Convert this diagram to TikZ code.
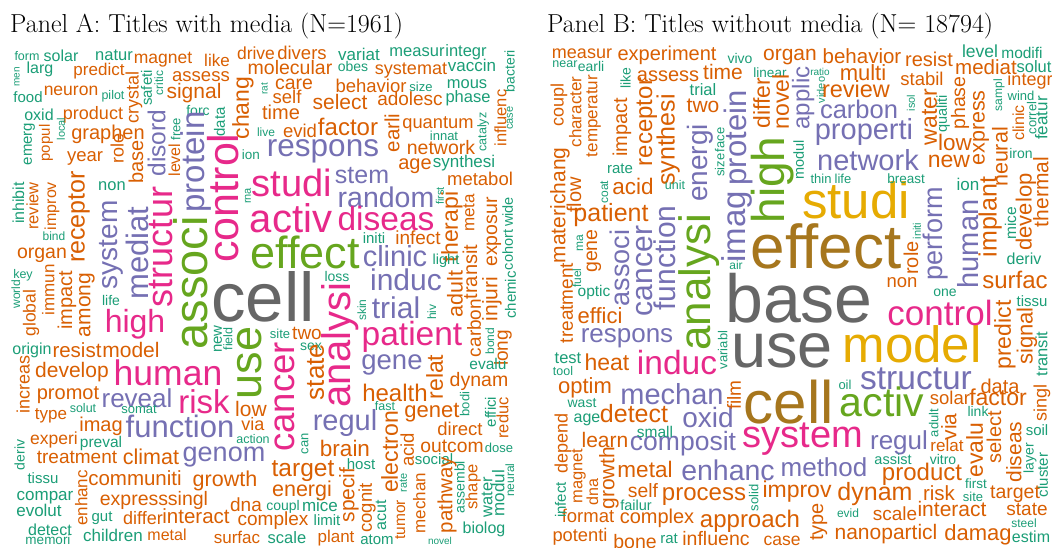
\documentclass[tikz,border=0pt]{standalone}
\usepackage{fontspec}
\setsansfont{Liberation Sans}
\usepackage{tikz}
\definecolor{w_teal}{RGB}{27,158,119}
\definecolor{w_orange}{RGB}{217,95,2}
\definecolor{w_purple}{RGB}{117,112,179}
\definecolor{w_pink}{RGB}{231,41,138}
\definecolor{w_green}{RGB}{102,166,30}
\definecolor{w_yellow}{RGB}{230,171,2}
\definecolor{w_brown}{RGB}{166,118,29}
\definecolor{w_gray}{RGB}{102,102,102}
\newcommand{\wfs}[1]{\sffamily\fontsize{#1}{#1}\selectfont}
\newsavebox\wordbox

\begin{document}
\begin{tikzpicture}[x=1pt,y=-1pt]
    \tikzstyle{word}=[inner sep=0pt,
      execute at begin node={\begin{lrbox}{\wordbox}},
      execute at end node={\end{lrbox}\raisebox{-0.26em}[0pt][0pt]{\usebox{\wordbox}}}]
    \tikzstyle{wtl}=[style=word,text=w_teal]
    \tikzstyle{wor}=[style=word,text=w_orange]
    \tikzstyle{wpu}=[style=word,text=w_purple]
    \tikzstyle{wpk}=[style=word,text=w_pink]
    \tikzstyle{wgn}=[style=word,text=w_green]
    \tikzstyle{wyl}=[style=word,text=w_yellow]
    \tikzstyle{wbn}=[style=word,text=w_brown]
    \tikzstyle{wgy}=[style=word,text=w_gray]
    \tikzstyle{vert}=[rotate=90]
    \tikzstyle{title}=[inner sep=0pt,anchor=base west,font=\rmfamily\fontsize{26}{26}\selectfont]

    \useasboundingbox[fill=white] (0,0) rectangle (1052,547);

    \node[title] (titleA) at (10,32) {Panel A: Titles with media (N=1961)};
    \node[title] (titleB) at (547,32) {Panel B: Titles without media (N= 18794)};

    % panel A
    \node[wtl, font=\wfs{12.5}] (a-form) at (27,57) {form};
    \node[wtl, font=\wfs{16}] (a-solar) at (61,57) {solar};
    \node[wtl, font=\wfs{16.5}] (a-natur) at (114,56) {natur};
    \node[wor, font=\wfs{17.5}] (a-magnet) at (163,59) {magnet};
    \node[wor, font=\wfs{17}] (a-like) at (217,62) {like};
    \node[wor, font=\wfs{17.5}] (a-drive) at (256,55) {drive};
    \node[wtl, vert, font=\wfs{10}] (a-men) at (17,77) {men};
    \node[wtl, font=\wfs{16}] (a-larg) at (40,69) {larg};
    \node[wor, font=\wfs{17}] (a-predict) at (99,71) {predict};
    \node[wor, vert, font=\wfs{18}] (a-crystal) at (134,97) {crystal};
    \node[wtl, vert, font=\wfs{15}] (a-safeti) at (148,88) {safeti};
    \node[wtl, vert, font=\wfs{12}] (a-critic) at (160,83) {critic};
    \node[wor, font=\wfs{18.5}] (a-assess) at (201,77) {assess};
    \node[wor, font=\wfs{19.5}] (a-molecular) at (290,69) {molecular};
    \node[wor, font=\wfs{17.5}] (a-neuron) at (71,91) {neuron};
    \node[wtl, font=\wfs{12.5}] (a-pilot) at (113,96) {pilot};
    \node[wor, font=\wfs{21}] (a-signal) at (194,93) {signal};
    \node[wtl, vert, font=\wfs{10}] (a-rat) at (265,89) {rat};
    \node[wtl, font=\wfs{15}] (a-food) at (28,99) {food};
    \node[wtl, font=\wfs{16}] (a-oxid) at (39,116) {oxid};
    \node[wor, font=\wfs{18}] (a-product) at (93,115) {product};
    \node[wtl, font=\wfs{14}] (a-forc) at (198,112) {forc};
    \node[wtl, vert, font=\wfs{15}] (a-data) at (221,122) {data};
    \node[wor, vert, font=\wfs{23}] (a-chang) at (243,108) {chang};
    \node[wor, font=\wfs{20}] (a-time) at (281,114) {time};
    \node[wtl, vert, font=\wfs{15}] (a-emerg) at (28,144) {emerg};
    \node[wor, vert, font=\wfs{15}] (a-popul) at (46,143) {popul};
    \node[wtl, vert, font=\wfs{11}] (a-local) at (62,129) {local};
    \node[wor, font=\wfs{20}] (a-graphen) at (108,134) {graphen};
    \node[wor, font=\wfs{18.5}] (a-year) at (85,157) {year};
    \node[wor, vert, font=\wfs{18}] (a-role) at (119,148) {role};
    \node[wor, vert, font=\wfs{20}] (a-base) at (138,162) {base};
    \node[wpu, vert, font=\wfs{24.5}] (a-disord) at (159,143) {disord};
    \node[wtl, vert, font=\wfs{13}] (a-free) at (177,129) {free};
    \node[wor, vert, font=\wfs{16}] (a-level) at (176,160) {level};
    \node[wpu, vert, font=\wfs{33}] (a-protein) at (196,162) {protein};
    \node[wpk, vert, font=\wfs{43}] (a-control) at (227,198) {control};
    \node[wtl, font=\wfs{13.5}] (a-ion) at (251,156) {ion};
    \node[wtl, font=\wfs{12}] (a-live) at (266,133) {live};
    \node[wtl, vert, font=\wfs{11}] (a-rna) at (248,196) {rna};
    \node[wtl, vert, font=\wfs{16}] (a-inhibit) at (20,203) {inhibit};
    \node[wor, vert, font=\wfs{16.5}] (a-review) at (34,206) {review};
    \node[wor, vert, font=\wfs{16}] (a-improv) at (52,206) {improv};
    \node[wtl, font=\wfs{16.5}] (a-non) at (112,186) {non};
    \node[wor, vert, font=\wfs{25}] (a-receptor) at (78,217) {receptor};
    \node[wpu, vert, font=\wfs{28}] (a-system) at (110,245) {system};
    \node[wpu, vert, font=\wfs{31}] (a-mediat) at (140,253) {mediat};
    \node[wtl, font=\wfs{12}] (a-bind) at (54,237) {bind};
    \node[wor, font=\wfs{19.5}] (a-organ) at (42,253) {organ};
    \node[wpk, vert, font=\wfs{36}] (a-structur) at (163,247) {structur};
    \node[wgn, vert, font=\wfs{47}] (a-associ) at (195,283) {associ};
    \node[wtl, font=\wfs{12.5}] (a-key) at (23,275) {key};
    \node[wor, font=\wfs{18.5}] (a-divers) at (302,55) {divers};
    \node[wtl, font=\wfs{17}] (a-variat) at (359,56) {variat};
    \node[wtl, font=\wfs{16.5}] (a-measur) at (417,52) {measur};
    \node[wtl, font=\wfs{16.5}] (a-integr) at (466,52) {integr};
    \node[wtl, vert, font=\wfs{14}] (a-bacteri) at (511,71) {bacteri};
    \node[wtl, font=\wfs{14}] (a-obes) at (353,68) {obes};
    \node[wor, font=\wfs{18}] (a-systemat) at (411,70) {systemat};
    \node[wtl, font=\wfs{17}] (a-vaccin) at (472,67) {vaccin};
    \node[wor, font=\wfs{19.5}] (a-care) at (294,84) {care};
    \node[wor, font=\wfs{18.5}] (a-behavior) at (371,88) {behavior};
    \node[wtl, font=\wfs{13}] (a-size) at (421,88) {size};
    \node[wtl, font=\wfs{16.5}] (a-mous) at (467,84) {mous};
    \node[wor, vert, font=\wfs{16.5}] (a-influenc) at (502,118) {influenc};
    \node[wor, font=\wfs{18.5}] (a-self) at (287,99) {self};
    \node[wor, font=\wfs{21}] (a-select) at (340,104) {select};
    \node[wor, font=\wfs{19}] (a-adolesc) at (410,101) {adolesc};
    \node[wtl, font=\wfs{16.5}] (a-phase) at (468,98) {phase};
    \node[wtl, vert, font=\wfs{11}] (a-case) at (510,118) {case};
    \node[wtl, vert, font=\wfs{12.5}] (a-catalyz) at (483,132) {catalyz};
    \node[wor, font=\wfs{18.5}] (a-evid) at (300,133) {evid};
    \node[wor, font=\wfs{24}] (a-factor) at (348,129) {factor};
    \node[wor, vert, font=\wfs{20.5}] (a-earli) at (394,133) {earli};
    \node[wor, font=\wfs{18.3}] (a-quantum) at (438,124) {quantum};
    \node[wtl, font=\wfs{13}] (a-innat) at (444,137) {innat};
    \node[wpu, font=\wfs{31.5}] (a-respons) at (323,148) {respons};
    \node[wor, font=\wfs{19.5}] (a-network) at (441,149) {network};
    \node[wor, font=\wfs{20}] (a-age) at (415,164) {age};
    \node[wtl, font=\wfs{17}] (a-synthesi) at (464,163) {synthesi};
    \node[wpk, font=\wfs{38}] (a-studi) at (292,187) {studi};
    \node[wpu, font=\wfs{25}] (a-stem) at (362,177) {stem};
    \node[wor, font=\wfs{18.5}] (a-metabol) at (480,181) {metabol};
    \node[wpu, font=\wfs{28.5}] (a-random) at (386,200) {random};
    \node[wtl, vert, font=\wfs{11}] (a-first) at (441,196) {first};
    \node[wor, vert, font=\wfs{23}] (a-therapi) at (452,227) {therapi};
    \node[wor, vert, font=\wfs{17}] (a-meta) at (470,213) {meta};
    \node[wor, vert, font=\wfs{20}] (a-transit) at (472,272) {transit};
    \node[wor, vert, font=\wfs{19}] (a-carbon) at (476,328) {carbon};
    \node[wor, vert, font=\wfs{19.5}] (a-exposur) at (492,232) {exposur};
    \node[wtl, vert, font=\wfs{14.5}] (a-wide) at (509,212) {wide};
    \node[wtl, vert, font=\wfs{14.5}] (a-cohort) at (509,250) {cohort};
    \node[wpk, font=\wfs{40}] (a-activ) at (291,222) {activ};
    \node[wpk, font=\wfs{33.5}] (a-diseas) at (386,222) {diseas};
    \node[wtl, font=\wfs{15}] (a-initi) at (374,240) {initi};
    \node[wor, font=\wfs{19}] (a-infect) at (418,240) {infect};
    \node[wgn, font=\wfs{45}] (a-effect) at (305,257) {effect};
    \node[wpu, font=\wfs{29}] (a-clinic) at (395,259) {clinic};
    \node[wtl, font=\wfs{14.5}] (a-light) at (446,261) {light};
    \node[wtl, font=\wfs{14}] (a-loss) at (337,278) {loss};
    \node[wgy, font=\wfs{69}] (a-cell) at (263,304) {cell};
    \node[wpu, font=\wfs{30}] (a-induc) at (406,283) {induc};
    \node[wpu, font=\wfs{30}] (a-trial) at (396,311) {trial};
    \node[wtl, vert, font=\wfs{12}] (a-skin) at (363,310) {skin};
    \node[wtl, vert, font=\wfs{12}] (a-hiv) at (433,312) {hiv};
    \node[wor, vert, font=\wfs{21.5}] (a-adult) at (457,294) {adult};
    \node[wor, vert, font=\wfs{21}] (a-injuri) at (492,299) {injuri};
    \node[wtl, vert, font=\wfs{15}] (a-chemic) at (512,295) {chemic};
    \node[wpk, vert, font=\wfs{40}] (a-analysi) at (340,345) {analysi};
    \node[wgn, vert, font=\wfs{45}] (a-use) at (250,363) {use};
    \node[wtl, vert, font=\wfs{15}] (a-new) at (218,339) {new};
    \node[wtl, vert, font=\wfs{12.5}] (a-field) at (229,339) {field};
    \node[wtl, font=\wfs{13}] (a-site) at (280,335) {site};
    \node[wor, font=\wfs{19}] (a-two) at (307,335) {two};
    \node[wtl, font=\wfs{14}] (a-sex) at (311,347) {sex};
    \node[wpk, font=\wfs{33.5}] (a-patient) at (412,337) {patient};
    \node[wpk, vert, font=\wfs{36.5}] (a-cancer) at (285,397) {cancer};
    \node[wor, vert, font=\wfs{26}] (a-state) at (317,372) {state};
    \node[wpu, font=\wfs{27.5}] (a-gene) at (392,362) {gene};
    \node[wtl, vert, font=\wfs{12}] (a-bond) at (491,341) {bond};
    \node[wor, vert, font=\wfs{19}] (a-long) at (503,348) {long};
    \node[wtl, font=\wfs{15.5}] (a-evalu) at (488,365) {evalu};
    \node[wor, vert, font=\wfs{23}] (a-relat) at (437,377) {relat};
    \node[wor, font=\wfs{19.5}] (a-dynam) at (479,381) {dynam};
    \node[wor, font=\wfs{24}] (a-health) at (395,395) {health};
    \node[wtl, font=\wfs{12.5}] (a-fast) at (385,407) {fast};
    \node[wor, font=\wfs{22}] (a-genet) at (432,412) {genet};
    \node[wtl, vert, font=\wfs{13}] (a-bodi) at (466,404) {bodi};
    \node[wtl, vert, font=\wfs{15}] (a-effici) at (492,412) {effici};
    \node[wor, vert, font=\wfs{16.5}] (a-reduc) at (504,418) {reduc};
    \node[wor, vert, font=\wfs{23}] (a-electron) at (392,452) {electron};
    \node[wpu, font=\wfs{29}] (a-regul) at (345,423) {regul};
    \node[wor, font=\wfs{18.5}] (a-direct) at (460,431) {direct};
    \node[wor, vert, font=\wfs{18.5}] (a-acid) at (409,450) {acid};
    \node[wor, font=\wfs{19.3}] (a-outcom) at (452,447) {outcom};
    \node[wtl, font=\wfs{13}] (a-dose) at (499,449) {dose};
    \node[wtl, vert, font=\wfs{13}] (a-can) at (305,444) {can};
    \node[wor, font=\wfs{22.5}] (a-brain) at (345,451) {brain};
    \node[wtl, font=\wfs{15}] (a-social) at (434,461) {social};
    \node[wtl, vert, font=\wfs{14}] (a-assembl) at (461,487) {assembl};
    \node[wor, font=\wfs{24.5}] (a-target) at (303,470) {target};
    \node[wtl, font=\wfs{15}] (a-host) at (361,466) {host};
    \node[wor, vert, font=\wfs{21}] (a-specif) at (349,495) {specif};
    \node[wor, vert, font=\wfs{20.5}] (a-pathway) at (447,495) {pathway};
    \node[wor, vert, font=\wfs{16.5}] (a-shape) at (473,487) {shape};
    \node[wtl, vert, font=\wfs{16.5}] (a-water) at (488,497) {water};
    \node[wtl, vert, font=\wfs{17}] (a-modul) at (500,493) {modul};
    \node[wtl, vert, font=\wfs{12}] (a-neural) at (511,480) {neural};
    \node[wor, font=\wfs{21.5}] (a-energi) at (302,491) {energi};
    \node[wor, vert, font=\wfs{18.5}] (a-cognit) at (367,508) {cognit};
    \node[wor, vert, font=\wfs{15.5}] (a-tumor) at (401,520) {tumor};
    \node[wtl, vert, font=\wfs{11}] (a-rate) at (404,483) {rate};
    \node[wor, vert, font=\wfs{17}] (a-mechan) at (421,503) {mechan};
    \node[wtl, vert, font=\wfs{16}] (a-acut) at (382,515) {acut};
    \node[wtl, font=\wfs{14}] (a-coupl) at (283,507) {coupl};
    \node[wtl, font=\wfs{17}] (a-mice) at (320,507) {mice};
    \node[wtl, font=\wfs{15}] (a-limit) at (327,522) {limit};
    \node[wor, font=\wfs{19}] (a-complex) at (273,521) {complex};
    \node[wtl, font=\wfs{16.5}] (a-scale) at (287,539) {scale};
    \node[wor, font=\wfs{17}] (a-plant) at (336,538) {plant};
    \node[wtl, font=\wfs{15}] (a-atom) at (377,541) {atom};
    \node[wtl, font=\wfs{10}] (a-novel) at (440,542) {novel};
    \node[wtl, font=\wfs{16}] (a-biolog) at (484,529) {biolog};
    \node[wor, font=\wfs{17}] (a-surfac) at (237,539) {surfac};
    \node[wor, font=\wfs{19}] (a-dna) at (246,507) {dna};
    \node[wor, font=\wfs{21.5}] (a-growth) at (225,481) {growth};
    \node[wpu, font=\wfs{27}] (a-genom) at (224,454) {genom};
    \node[wtl, font=\wfs{12.5}] (a-action) at (253,440) {action};
    \node[wor, font=\wfs{18}] (a-via) at (253,426) {via};
    \node[wor, font=\wfs{21}] (a-low) at (251,411) {low};
    \node[wpk, font=\wfs{33}] (a-risk) at (204,405) {risk};
    \node[wpk, font=\wfs{35.5}] (a-human) at (168,376) {human};
    \node[wpk, font=\wfs{32}] (a-high) at (135,324) {high};
    \node[wtl, font=\wfs{14}] (a-life) at (111,302) {life};
    \node[wor, font=\wfs{21}] (a-model) at (131,352) {model};
    \node[wor, font=\wfs{20.5}] (a-resist) at (77,352) {resist};
    \node[wtl, font=\wfs{16}] (a-origin) at (32,350) {origin};
    \node[wor, font=\wfs{21}] (a-develop) at (72,372) {develop};
    \node[wor, font=\wfs{20}] (a-promot) at (68,394) {promot};
    \node[wor, vert, font=\wfs{18}] (a-increas) at (25,384) {increas};
    \node[wpu, font=\wfs{26}] (a-reveal) at (137,401) {reveal};
    \node[wor, font=\wfs{17}] (a-type) at (51,415) {type};
    \node[wtl, font=\wfs{12.5}] (a-solut) at (83,409) {solut};
    \node[wtl, font=\wfs{13}] (a-somat) at (139,410) {somat};
    \node[wor, font=\wfs{20}] (a-imag) at (101,426) {imag};
    \node[wpu, font=\wfs{31}] (a-function) at (180,429) {function};
    \node[wor, font=\wfs{17.5}] (a-experi) at (54,440) {experi};
    \node[wtl, font=\wfs{15.5}] (a-preval) at (101,443) {preval};
    \node[wtl, vert, font=\wfs{14}] (a-deriv) at (21,455) {deriv};
    \node[wor, font=\wfs{19}] (a-treatment) at (77,459) {treatment};
    \node[wor, font=\wfs{21.5}] (a-climat) at (151,459) {climat};
    \node[wtl, font=\wfs{15}] (a-tissu) at (43,480) {tissu};
    \node[wor, vert, font=\wfs{17}] (a-enhanc) at (83,498) {enhanc};
    \node[wor, font=\wfs{20.5}] (a-communiti) at (135,480) {communiti};
    \node[wtl, font=\wfs{17}] (a-compar) at (45,496) {compar};
    \node[wor, font=\wfs{19.5}] (a-express) at (134,500) {express};
    \node[wor, font=\wfs{19.5}] (a-singl) at (188,500) {singl};
    \node[wtl, font=\wfs{17}] (a-evolut) at (39,512) {evolut};
    \node[wtl, font=\wfs{15}] (a-gut) at (102,518) {gut};
    \node[wor, font=\wfs{18}] (a-differ) at (143,520) {differ};
    \node[wor, font=\wfs{20.5}] (a-interact) at (196,518) {interact};
    \node[wtl, font=\wfs{16}] (a-detect) at (50,531) {detect};
    \node[wtl, font=\wfs{13.5}] (a-memori) at (48,541) {memori};
    \node[wtl, font=\wfs{17}] (a-children) at (113,537) {children};
    \node[wor, font=\wfs{16}] (a-metal) at (167,536) {metal};
    \node[wor, vert, font=\wfs{17.5}] (a-global) at (31,313) {global};
    \node[wtl, vert, font=\wfs{12}] (a-world) at (17,294) {world};
    \node[wor, vert, font=\wfs{17}] (a-immun) at (50,290) {immun};
    \node[wor, vert, font=\wfs{20}] (a-impact) at (67,300) {impact};
    \node[wor, vert, font=\wfs{21}] (a-among) at (85,305) {among};

    % panel B
    \node[wor, font=\wfs{18}] (b-measur) at (582,54) {measur};
    \node[wor, font=\wfs{20}] (b-experiment) at (667,55) {experiment};
    \node[wtl, font=\wfs{14}] (b-vivo) at (740,60) {vivo};
    \node[wor, font=\wfs{21}] (b-organ) at (790,55) {organ};
    \node[wtl, font=\wfs{12.5}] (b-near) at (565,64) {near};
    \node[wtl, font=\wfs{14}] (b-earli) at (591,68) {earli};
    \node[wtl, vert, font=\wfs{14}] (b-like) at (627,78) {like};
    \node[wor, font=\wfs{20}] (b-assess) at (668,76) {assess};
    \node[wor, font=\wfs{21}] (b-time) at (723,74) {time};
    \node[wtl, font=\wfs{13.5}] (b-linear) at (770,74) {linear};
    \node[wpu, vert, font=\wfs{24}] (b-applic) at (803,98) {applic};
    \node[wor, vert, font=\wfs{18}] (b-coupl) at (559,105) {coupl};
    \node[wor, vert, font=\wfs{17}] (b-character) at (577,112) {character};
    \node[wor, vert, font=\wfs{17}] (b-temperatur) at (593,116) {temperatur};
    \node[wor, vert, font=\wfs{20}] (b-impact) at (622,127) {impact};
    \node[wor, vert, font=\wfs{24}] (b-receptor) at (646,122) {receptor};
    \node[wor, vert, font=\wfs{25}] (b-synthesi) at (668,140) {synthesi};
    \node[wtl, font=\wfs{16.5}] (b-trial) at (703,91) {trial};
    \node[wor, font=\wfs{21}] (b-two) at (703,107) {two};
    \node[wpu, vert, font=\wfs{31}] (b-protein) at (738,138) {protein};
    \node[wpu, vert, font=\wfs{33}] (b-imag) at (737,227) {imag};
    \node[wor, vert, font=\wfs{23}] (b-differ) at (764,103) {differ};
    \node[wor, vert, font=\wfs{23}] (b-novel) at (783,102) {novel};
    \node[wtl, vert, font=\wfs{13}] (b-size) at (721,165) {size};
    \node[wtl, vert, font=\wfs{13}] (b-face) at (721,140) {face};
    \node[wtl, font=\wfs{15}] (b-rate) at (620,170) {rate};
    \node[wor, font=\wfs{22.5}] (b-acid) at (633,189) {acid};
    \node[wtl, vert, font=\wfs{12}] (b-coat) at (605,192) {coat};
    \node[wtl, font=\wfs{12.5}] (b-unit) at (675,186) {unit};
    \node[wpu, vert, font=\wfs{28}] (b-energi) at (700,163) {energi};
    \node[wor, vert, font=\wfs{20}] (b-flow) at (576,195) {flow};
    \node[wor, vert, font=\wfs{21}] (b-materi) at (560,234) {materi};
    \node[wor, vert, font=\wfs{21}] (b-chang) at (560,176) {chang};
    \node[wor, vert, font=\wfs{19}] (b-treatment) at (568,303) {treatment};
    \node[wor, font=\wfs{25}] (b-patient) at (611,215) {patient};
    \node[wor, vert, font=\wfs{19.5}] (b-gene) at (592,251) {gene};
    \node[wtl, vert, font=\wfs{12}] (b-ma) at (580,243) {ma};
    \node[wtl, vert, font=\wfs{12}] (b-fuel) at (578,278) {fuel};
    \node[wtl, font=\wfs{15.5}] (b-optic) at (594,292) {optic};
    \node[wpu, vert, font=\wfs{27}] (b-associ) at (622,268) {associ};
    \node[wpu, vert, font=\wfs{30}] (b-cancer) at (645,271) {cancer};
    \node[wpu, vert, font=\wfs{30}] (b-function) at (668,258) {function};
    \node[wgn, vert, font=\wfs{44}] (b-analysi) at (699,282) {analysi};
    \node[wtl, font=\wfs{12}] (b-air) at (736,266) {air};
    \node[wgn, vert, font=\wfs{46}] (b-high) at (773,180) {high};
    \node[wgy, font=\wfs{68}] (b-base) at (799,305) {base};
    \node[wgy, font=\wfs{63}] (b-use) at (782,351) {use};
    \node[wbn, font=\wfs{62}] (b-effect) at (826,252) {effect};
    \node[wyl, font=\wfs{51}] (b-studi) at (856,205) {studi};
    \node[wbn, font=\wfs{60}] (b-cell) at (789,408) {cell};
    \node[wyl, font=\wfs{51}] (b-model) at (912,349) {model};
    \node[wgn, font=\wfs{41}] (b-activ) at (882,406) {activ};
    \node[wpu, font=\wfs{33.5}] (b-structur) at (916,381) {structur};
    \node[wpk, font=\wfs{38}] (b-system) at (803,438) {system};
    \node[wpk, font=\wfs{35}] (b-control) at (940,316) {control};
    \node[wor, font=\wfs{18.5}] (b-non) at (902,283) {non};
    \node[wtl, font=\wfs{14}] (b-one) at (945,293) {one};
    \node[wor, font=\wfs{24}] (b-surfac) at (1015,282) {surfac};
    \node[wtl, font=\wfs{15}] (b-tissu) at (1032,303) {tissu};
    \node[wor, vert, font=\wfs{23}] (b-predict) at (1005,335) {predict};
    \node[wor, vert, font=\wfs{22}] (b-signal) at (1027,336) {signal};
    \node[wtl, vert, font=\wfs{16.5}] (b-transit) at (1043,354) {transit};
    \node[wtl, font=\wfs{13}] (b-oil) at (845,386) {oil};
    \node[wor, font=\wfs{20}] (b-data) at (1000,388) {data};
    \node[wor, font=\wfs{18.5}] (b-solar) at (950,400) {solar};
    \node[wor, font=\wfs{23}] (b-factor) at (998,400) {factor};
    \node[wor, vert, font=\wfs{18}] (b-singl) at (1042,403) {singl};
    \node[wor, vert, font=\wfs{21}] (b-via) at (951,427) {via};
    \node[wtl, font=\wfs{14}] (b-link) at (978,413) {link};
    \node[wtl, vert, font=\wfs{13}] (b-adult) at (935,423) {adult};
    \node[wor, vert, font=\wfs{23}] (b-evalu) at (977,450) {evalu};
    \node[wor, vert, font=\wfs{20}] (b-select) at (996,437) {select};
    \node[wor, vert, font=\wfs{21}] (b-diseas) at (1016,452) {diseas};
    \node[wtl, font=\wfs{15}] (b-soil) at (1037,432) {soil};
    \node[wtl, vert, font=\wfs{14}] (b-layer) at (1030,458) {layer};
    \node[wtl, vert, font=\wfs{15}] (b-cluster) at (1044,475) {cluster};
    \node[wpu, font=\wfs{26}] (b-regul) at (899,443) {regul};
    \node[wor, font=\wfs{17}] (b-relat) at (947,447) {relat};
    \node[wtl, font=\wfs{14.5}] (b-assist) at (893,461) {assist};
    \node[wtl, font=\wfs{14}] (b-vitro) at (943,461) {vitro};
    \node[wpu, font=\wfs{26}] (b-method) at (824,470) {method};
    \node[wor, font=\wfs{24}] (b-product) at (922,474) {product};
    \node[wtl, font=\wfs{13.5}] (b-first) at (976,485) {first};
    \node[wtl, font=\wfs{13}] (b-site) at (973,498) {site};
    \node[wor, font=\wfs{19.5}] (b-target) at (1015,493) {target};
    \node[wor, font=\wfs{23}] (b-improv) at (797,492) {improv};
    \node[wor, font=\wfs{25}] (b-dynam) at (875,494) {dynam};
    \node[wor, font=\wfs{20.5}] (b-risk) at (939,495) {risk};
    \node[wor, vert, font=\wfs{20}] (b-type) at (818,522) {type};
    \node[wtl, font=\wfs{12}] (b-evid) at (848,514) {evid};
    \node[wor, font=\wfs{19}] (b-scale) at (895,516) {scale};
    \node[wor, font=\wfs{21}] (b-interact) at (952,511) {interact};
    \node[wor, font=\wfs{19}] (b-state) at (1027,511) {state};
    \node[wor, font=\wfs{21}] (b-nanoparticl) at (886,534) {nanoparticl};
    \node[wor, font=\wfs{22}] (b-damag) at (978,535) {damag};
    \node[wtl, font=\wfs{12}] (b-steel) at (1024,524) {steel};
    \node[wtl, font=\wfs{16}] (b-estim) at (1031,538) {estim};
    \node[wor, font=\wfs{24}] (b-approach) at (750,521) {approach};
    \node[wor, font=\wfs{17.5}] (b-case) at (782,541) {case};
    \node[wor, font=\wfs{19.5}] (b-influenc) at (716,540) {influenc};
    \node[wtl, font=\wfs{15}] (b-rat) at (669,540) {rat};
    \node[wor, font=\wfs{19.5}] (b-bone) at (635,543) {bone};
    \node[wor, font=\wfs{18.3}] (b-potenti) at (580,537) {potenti};
    \node[wor, font=\wfs{18.5}] (b-format) at (588,518) {format};
    \node[wor, font=\wfs{20}] (b-complex) at (657,518) {complex};
    \node[wor, font=\wfs{19.3}] (b-self) at (643,492) {self};
    \node[wor, font=\wfs{24}] (b-process) at (704,494) {process};
    \node[wtl, vert, font=\wfs{13}] (b-solid) at (755,498) {solid};
    \node[wtl, font=\wfs{14.5}] (b-failur) at (636,507) {failur};
    \node[wor, font=\wfs{22.5}] (b-metal) at (645,472) {metal};
    \node[wpu, font=\wfs{28.5}] (b-enhanc) at (728,473) {enhanc};
    \node[wpu, font=\wfs{26.5}] (b-composit) at (683,444) {composit};
    \node[wor, font=\wfs{21}] (b-learn) at (605,442) {learn};
    \node[wtl, font=\wfs{15.5}] (b-small) at (655,433) {small};
    \node[wpu, font=\wfs{28}] (b-oxid) at (708,420) {oxid};
    \node[wor, font=\wfs{25}] (b-detect) at (634,416) {detect};
    \node[wtl, font=\wfs{16}] (b-age) at (587,418) {age};
    \node[wtl, font=\wfs{14}] (b-wast) at (582,404) {wast};
    \node[wpu, font=\wfs{29}] (b-mechan) at (672,397) {mechan};
    \node[wor, vert, font=\wfs{19}] (b-film) at (736,395) {film};
    \node[wor, font=\wfs{22}] (b-optim) at (585,388) {optim};
    \node[wtl, font=\wfs{16.5}] (b-test) at (568,359) {test};
    \node[wtl, font=\wfs{12.5}] (b-tool) at (563,372) {tool};
    \node[wor, font=\wfs{23}] (b-heat) at (607,365) {heat};
    \node[wpk, font=\wfs{33.5}] (b-induc) at (677,366) {induc};
    \node[wtl, vert, font=\wfs{13}] (b-variabl) at (724,350) {variabl};
    \node[wpu, font=\wfs{26}] (b-respons) at (627,336) {respons};
    \node[wor, font=\wfs{22}] (b-effici) at (600,318) {effici};
    \node[wor, vert, font=\wfs{16.5}] (b-magnet) at (578,476) {magnet};
    \node[wor, vert, font=\wfs{18}] (b-depend) at (563,443) {depend};
    \node[wtl, vert, font=\wfs{15}] (b-infect) at (562,500) {infect};
    \node[wor, vert, font=\wfs{16}] (b-dna) at (594,492) {dna};
    \node[wor, vert, font=\wfs{21}] (b-growth) at (609,478) {growth};
    \node[wor, font=\wfs{20.5}] (b-behavior) at (862,58) {behavior};
    \node[wor, font=\wfs{20}] (b-resist) at (929,61) {resist};
    \node[wtl, font=\wfs{17.5}] (b-level) at (980,53) {level};
    \node[wtl, font=\wfs{15.5}] (b-modifi) at (1022,54) {modifi};
    \node[wor, font=\wfs{20.5}] (b-mediat) at (986,69) {mediat};
    \node[wtl, font=\wfs{16.5}] (b-solut) at (1034,68) {solut};
    \node[wtl, vert, font=\wfs{11}] (b-video) at (822,90) {video};
    \node[wtl, font=\wfs{10}] (b-ratio) at (820,73) {ratio};
    \node[wor, font=\wfs{22}] (b-multi) at (863,75) {multi};
    \node[wor, font=\wfs{18.5}] (b-stabil) at (922,81) {stabil};
    \node[wor, font=\wfs{18}] (b-integr) at (1030,81) {integr};
    \node[wor, font=\wfs{23.5}] (b-review) at (856,91) {review};
    \node[wor, vert, font=\wfs{19.5}] (b-phase) at (960,103) {phase};
    \node[wor, vert, font=\wfs{23}] (b-water) at (931,117) {water};
    \node[wtl, vert, font=\wfs{11}] (b-isol) at (912,103) {isol};
    \node[wtl, vert, font=\wfs{14.5}] (b-qualiti) at (943,114) {qualiti};
    \node[wor, vert, font=\wfs{21.5}] (b-express) at (979,128) {express};
    \node[wtl, vert, font=\wfs{12}] (b-sampl) at (999,95) {sampl};
    \node[wtl, font=\wfs{13}] (b-wind) at (1021,97) {wind};
    \node[wor, vert, font=\wfs{16}] (b-clinic) at (1020,123) {clinic};
    \node[wtl, vert, font=\wfs{13}] (b-correl) at (1033,118) {correl};
    \node[wtl, vert, font=\wfs{17}] (b-featur) at (1043,118) {featur};
    \node[wpu, font=\wfs{25.5}] (b-carbon) at (859,112) {carbon};
    \node[wpu, font=\wfs{29}] (b-properti) at (864,132) {properti};
    \node[wor, font=\wfs{22.5}] (b-low) at (955,145) {low};
    \node[wor, font=\wfs{23}] (b-new) at (949,162) {new};
    \node[wpu, font=\wfs{29}] (b-network) at (868,163) {network};
    \node[wor, vert, font=\wfs{21.5}] (b-neural) at (1002,157) {neural};
    \node[wtl, font=\wfs{14}] (b-iron) at (1021,155) {iron};
    \node[wor, vert, font=\wfs{21}] (b-thermal) at (1043,192) {thermal};
    \node[wtl, vert, font=\wfs{14.5}] (b-modul) at (800,160) {modul};
    \node[wtl, font=\wfs{13}] (b-thin) at (821,180) {thin};
    \node[wtl, font=\wfs{13}] (b-life) at (843,180) {life};
    \node[wtl, font=\wfs{13.5}] (b-breast) at (906,180) {breast};
    \node[wtl, font=\wfs{17}] (b-ion) at (968,186) {ion};
    \node[wor, vert, font=\wfs{25}] (b-implant) at (990,217) {implant};
    \node[wor, vert, font=\wfs{22}] (b-develop) at (1026,212) {develop};
    \node[wtl, vert, font=\wfs{15.5}] (b-mice) at (1012,223) {mice};
    \node[wtl, font=\wfs{16}] (b-deriv) at (1024,260) {deriv};
    \node[wpu, vert, font=\wfs{27}] (b-perform) at (935,234) {perform};
    \node[wor, vert, font=\wfs{20}] (b-role) at (913,258) {role};
    \node[wtl, vert, font=\wfs{11}] (b-initi) at (918,231) {initi};
    \node[wpu, vert, font=\wfs{29}] (b-human) at (971,244) {human};
\end{tikzpicture}
\end{document}
